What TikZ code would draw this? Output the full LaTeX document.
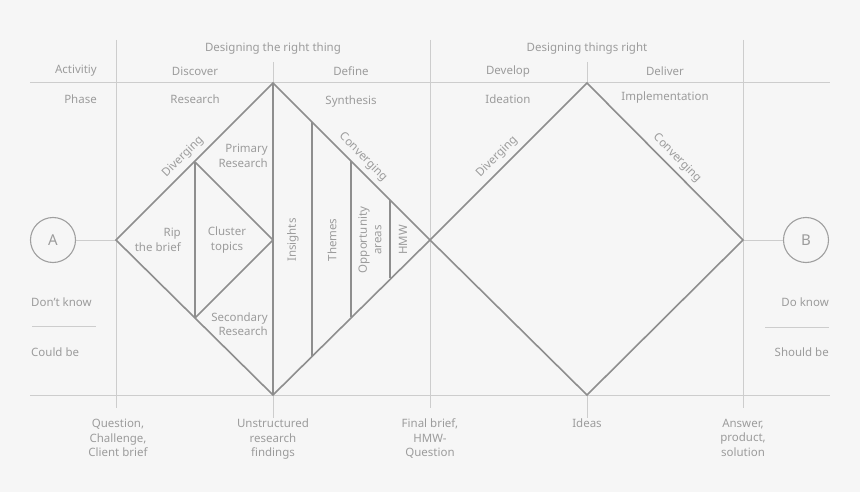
\documentclass[tikz,border=0pt]{standalone}
\usepackage{fontspec}
\setmainfont{Noto Sans}
\usepackage{tikz}
\usetikzlibrary{positioning, calc}
\definecolor{ddBack}{HTML}{F6F6F6}
\definecolor{ddGrid}{HTML}{CDCDCD}
\definecolor{ddEdge}{HTML}{8E8E8E}
\definecolor{ddText}{HTML}{9C9C9C}

\tikzset{
  lbl/.style={font=\fontsize{11.5}{14.5}\selectfont, text=ddText, inner sep=0pt, align=center},
  lblr/.style={lbl, align=right},
  gridline/.style={draw=ddGrid, line width=1pt},
  edge/.style={draw=ddEdge, line width=1.6pt, line join=miter},
  endpoint/.style={circle, draw=ddEdge!85, line width=1.1pt, minimum size=45pt, inner sep=0pt,
    font=\fontsize{15}{15}\selectfont, text=ddText},
}

\begin{document}
\begin{tikzpicture}[x=1pt, y=-1pt]
  \fill[ddBack] (0,0) rectangle (860,492);
  \useasboundingbox (0,0) rectangle (860,492);

  % table grid
  \draw[gridline] (30,83) -- (830,83);
  \draw[gridline] (30,395) -- (830,395);
  \foreach \x in {116,430,743}
    \draw[gridline] (\x,40) -- (\x,408);
  \foreach \x in {273,587}{
    \draw[gridline] (\x,62) -- (\x,83);
    \draw[gridline] (\x,395) -- (\x,418);
  }
  \draw[gridline] (32,326) -- (96,326);
  \draw[gridline] (765,327) -- (829,327);

  % diamond corners
  \coordinate (d1l) at (116,240);
  \coordinate (d1t) at (273,83);
  \coordinate (d1r) at (430,240);
  \coordinate (d1b) at (273,395);
  \coordinate (d2t) at (587,83);
  \coordinate (d2r) at (743,240);
  \coordinate (d2b) at (587,395);
  \coordinate (ripT) at (195,162);
  \coordinate (ripB) at (195,318);
  \coordinate (clusR) at (273,240);

  % start and end
  \node[endpoint] (A) at (53,240) {A};
  \node[endpoint] (B) at (806,240) {B};
  \draw[gridline] (A) -- (d1l);
  \draw[gridline] (d2r) -- (B);

  % double diamond
  \draw[edge] (d1l) -- (d1t) -- (d1r) -- (d1b) -- cycle;
  \draw[edge] (d1r) -- (d2t) -- (d2r) -- (d2b) -- cycle;
  \draw[edge] (d1t) -- (d1b);
  \draw[edge] (ripT) -- (ripB);
  \draw[edge] (ripT) -- (clusR) -- (ripB);
  \foreach \x in {312,351,390}
    \draw[edge] (\x,{83+\x-273}) -- (\x,{395-\x+273});

  % header
  \node[lbl] (right1) at (273,49) {Designing the right thing};
  \node[lbl] (right2) at (587,49) {Designing things right};
  \node[lblr, anchor=east] (activ) at (97,71) {Activitiy};
  \node[lblr, anchor=east] (phase) at (97,99) {Phase};
  \node[lbl] (discover) at (195,71) {Discover};
  \node[lbl] (define) at (351,71) {Define};
  \node[lbl] (develop) at (508,72) {Develop};
  \node[lbl] (deliver) at (665,71) {Deliver};
  \node[lbl] (research) at (195,99) {Research};
  \node[lbl] (synth) at (351,102) {Synthesis};
  \node[lbl] (ideation) at (508,99) {Ideation};
  \node[lbl] (implem) at (665,98) {Implementation};

  % inside first diamond
  \node[lbl, rotate=45] (div1) at (183,157) {Diverging};
  \node[lbl, rotate=-45] (conv1) at (363,157) {Converging};
  \node[lbl, rotate=45] (div2) at (497,157) {Diverging};
  \node[lbl, rotate=-45] (conv2) at (677,158) {Converging};
  \node[lblr, anchor=east] (primary) at (268,156) {Primary\\Research};
  \node[lblr, anchor=east] (secondary) at (268,324) {Secondary\\Research};
  \node[lblr, anchor=east] (rip) at (181,240) {Rip\\the brief};
  \node[lbl] (cluster) at (227,240) {Cluster\\topics};
  \node[lbl, rotate=90] (insights) at (293,240) {Insights};
  \node[lbl, rotate=90] (themes) at (332,240) {Themes};
  \node[lbl, rotate=90] (oppo) at (370,240) {Opportunity\\areas};
  \node[lbl, rotate=90] (hmw) at (403,240) {HMW};

  % side notes
  \node[lbl, anchor=west] (dontknow) at (31,302) {Don't know};
  \node[lbl, anchor=west] (couldbe) at (31,352) {Could be};
  \node[lbl, anchor=east] (doknow) at (829,302) {Do know};
  \node[lbl, anchor=east] (shouldbe) at (829,352) {Should be};

  % outcomes
  \node[lbl, anchor=north] (question) at (118,419) {Question,\\Challenge,\\Client brief};
  \node[lbl, anchor=north] (findings) at (273,419) {Unstructured\\research\\findings};
  \node[lbl, anchor=north] (brief) at (430,419) {Final brief,\\HMW-\\Question};
  \node[lbl, anchor=north] (ideas) at (587,419) {Ideas};
  \node[lbl, anchor=north] (answer) at (743,419) {Answer,\\product,\\solution};
\end{tikzpicture}
\end{document}
